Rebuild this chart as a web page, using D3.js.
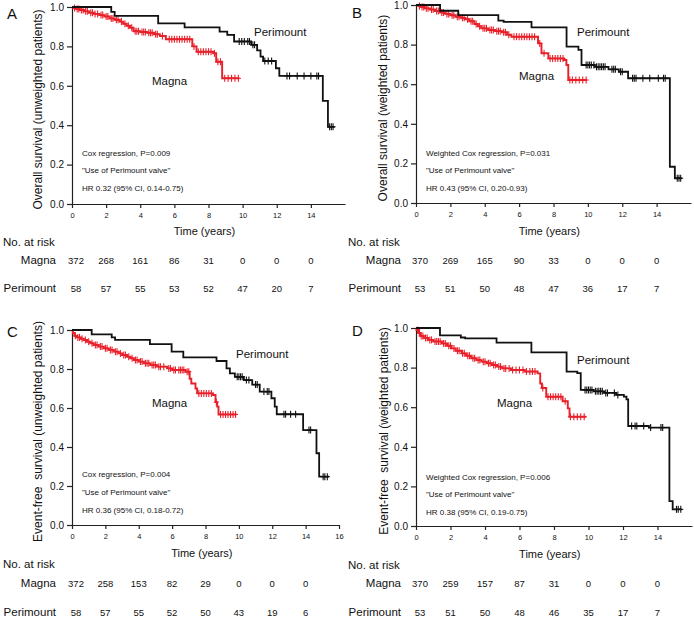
<!DOCTYPE html>
<html><head><meta charset="utf-8">
<script src="https://cdn.jsdelivr.net/npm/d3@7"></script>
<style>
body{margin:0;background:#fff}
svg{display:block}
text{font-family:"Liberation Sans",Arial,Helvetica,sans-serif;fill:#111}
</style>
</head><body>
<svg id="chart" width="694" height="617"></svg>
<script>
// ---------- data ----------
const yearTicks = [0,2,4,6,8,10,12,14];
const yearTicksC = [0,2,4,6,8,10,12,14,16];
const survTicks = [0,0.2,0.4,0.6,0.8,1.0];
const riskTimes = [0,2,4,6,8,10,12,14];
const groupNames = ["Magna","Perimount"];

// Panel A: overall survival, unweighted
const magnaA = [[0,1],[0.1,0.995],[0.25,0.99],[0.45,0.985],[0.7,0.978],[1.0,0.971],[1.3,0.965],[1.6,0.959],[1.9,0.952],[2.2,0.942],[2.5,0.935],[2.8,0.926],[3.0,0.915],[3.2,0.905],[3.4,0.895],[3.6,0.877],[4.0,0.873],[4.4,0.869],[4.8,0.862],[5.15,0.853],[5.5,0.836],[7.05,0.80],[7.3,0.773],[8.3,0.765],[8.45,0.722],[8.8,0.638],[9.8,0.638]];
const magnaACens = [0.15,0.3,0.4,0.55,0.65,0.8,0.9,1.1,1.2,1.35,1.5,1.7,1.8,2.0,2.1,2.3,2.4,2.6,2.7,2.9,3.1,3.3,3.5,3.7,3.8,3.9,4.1,4.2,4.3,4.5,4.6,4.7,4.9,5.0,5.3,5.7,5.85,6.0,6.15,6.3,6.45,6.6,6.75,6.9,7.15,7.4,7.55,7.7,7.85,8.0,8.15,8.35,8.55,8.7,8.95,9.15,9.35,9.55,9.75];
const periA = [[0,1],[2.3,0.975],[2.5,0.955],[5.05,0.917],[6.6,0.897],[8.65,0.875],[9.1,0.858],[9.5,0.825],[10.5,0.808],[10.85,0.78],[11.05,0.748],[11.2,0.726],[11.95,0.689],[12.15,0.65],[14.7,0.523],[15.0,0.392],[15.4,0.392]];
const periACens = [9.8,9.95,10.1,10.3,10.4,10.6,10.7,11.3,11.5,11.7,12.6,12.75,13.2,13.6,14.0,14.35,14.45,15.1,15.2,15.3];
const riskMagnaA = [372,268,161,86,31,0,0,0];
const riskPeriA = [58,57,55,53,52,47,20,7];

// Panel B: overall survival, weighted
const magnaB = [[0,1],[0.15,0.995],[0.3,0.99],[0.5,0.983],[0.8,0.977],[1.1,0.97],[1.4,0.962],[1.7,0.955],[2.0,0.948],[2.3,0.941],[2.6,0.935],[2.85,0.928],[3.1,0.918],[3.4,0.904],[3.6,0.893],[3.8,0.882],[4.2,0.874],[4.6,0.868],[5.0,0.862],[5.3,0.85],[5.55,0.84],[7.1,0.806],[7.3,0.756],[7.7,0.73],[8.6,0.722],[8.75,0.697],[8.86,0.621],[9.92,0.621]];
const magnaBCens = [0.2,0.35,0.45,0.6,0.7,0.9,1.0,1.2,1.3,1.5,1.6,1.8,1.9,2.1,2.2,2.4,2.5,2.7,2.8,3.0,3.2,3.3,3.5,3.7,3.9,4.0,4.1,4.3,4.4,4.5,4.7,4.8,4.9,5.1,5.2,5.4,5.7,5.85,6.0,6.15,6.3,6.45,6.6,6.75,6.9,7.2,7.45,7.8,7.95,8.1,8.25,8.4,8.55,8.95,9.1,9.3,9.5,9.7,9.9];
const periB = [[0,1],[1.4,0.971],[2.46,0.949],[4.79,0.921],[5.1,0.915],[6.72,0.887],[8.76,0.79],[9.45,0.773],[9.63,0.697],[10.4,0.688],[11.2,0.675],[11.8,0.663],[12.34,0.63],[14.77,0.183],[15.06,0.125],[15.45,0.125]];
const periBCens = [9.9,10.0,10.1,10.2,10.35,10.5,10.6,10.7,10.8,10.9,11.0,11.4,11.5,11.6,11.9,12.0,12.6,12.7,12.8,13.2,13.6,14.1,14.4,14.5,15.2,15.3,15.4];
const riskMagnaB = [370,269,165,90,33,0,0,0];
const riskPeriB = [53,51,50,48,47,36,17,7];

// Panel C: event-free survival, unweighted
const magnaC = [[0,1],[0.05,0.985],[0.15,0.97],[0.3,0.962],[0.5,0.955],[0.7,0.949],[0.9,0.94],[1.1,0.932],[1.3,0.923],[1.6,0.915],[1.9,0.906],[2.2,0.898],[2.5,0.889],[2.8,0.88],[3.0,0.872],[3.3,0.863],[3.5,0.855],[3.7,0.846],[4.0,0.838],[4.3,0.829],[4.7,0.82],[5.1,0.812],[5.7,0.803],[6.0,0.795],[6.8,0.786],[7.05,0.75],[7.15,0.726],[7.4,0.7],[7.5,0.675],[8.45,0.667],[8.6,0.63],[8.7,0.607],[8.78,0.567],[9.86,0.567]];
const magnaCCens = [0.2,0.35,0.45,0.6,0.8,1.0,1.2,1.4,1.5,1.7,1.8,2.0,2.1,2.3,2.4,2.6,2.7,2.9,3.1,3.2,3.4,3.6,3.8,3.9,4.1,4.2,4.4,4.5,4.6,4.8,4.9,5.0,5.2,5.3,5.5,5.8,5.9,6.1,6.2,6.4,6.5,6.6,6.7,6.9,7.0,7.6,7.75,7.9,8.05,8.2,8.35,8.65,8.9,9.05,9.2,9.35,9.5,9.65,9.8];
const periC = [[0,1],[1.18,0.978],[2.38,0.962],[2.58,0.949],[4.67,0.928],[5.97,0.889],[6.67,0.86],[8.66,0.841],[9.26,0.803],[9.46,0.778],[9.76,0.76],[10.3,0.743],[10.8,0.72],[11.25,0.684],[11.95,0.65],[12.15,0.607],[12.27,0.568],[13.85,0.487],[14.65,0.368],[14.81,0.248],[15.4,0.248]];
const periCCens = [9.9,10.0,10.1,10.2,10.45,10.6,11.0,11.1,11.5,11.7,11.8,12.7,12.8,13.1,13.4,14.2,14.3,15.05,15.15,15.3];
const riskMagnaC = [372,258,153,82,29,0,0,0];
const riskPeriC = [58,57,55,52,50,43,19,6];

// Panel D: event-free survival, weighted
const magnaD = [[0,1],[0.05,0.99],[0.15,0.975],[0.25,0.96],[0.45,0.95],[0.7,0.94],[1.0,0.932],[1.5,0.922],[1.8,0.91],[2.05,0.897],[2.3,0.885],[2.65,0.872],[2.9,0.86],[3.2,0.847],[3.5,0.838],[3.8,0.83],[4.1,0.822],[4.4,0.813],[4.7,0.805],[5.0,0.796],[5.5,0.788],[6.3,0.78],[7.05,0.771],[7.2,0.72],[7.3,0.697],[7.55,0.653],[8.5,0.63],[8.8,0.594],[8.9,0.552],[9.87,0.552]];
const magnaDCens = [0.1,0.2,0.3,0.4,0.55,0.65,0.8,0.9,1.1,1.2,1.3,1.4,1.6,1.7,1.9,2.0,2.2,2.4,2.5,2.7,2.8,3.0,3.1,3.3,3.4,3.6,3.7,3.9,4.0,4.2,4.3,4.5,4.6,4.8,4.9,5.1,5.2,5.4,5.6,5.8,6.0,6.2,6.4,6.6,6.75,6.9,7.35,7.65,7.8,7.95,8.1,8.25,8.4,8.65,8.95,9.15,9.35,9.55,9.75];
const periD = [[0,1],[1.39,0.963],[2.6,0.952],[2.85,0.948],[4.67,0.926],[6.69,0.877],[8.73,0.78],[9.35,0.772],[9.55,0.687],[10.3,0.68],[10.9,0.672],[11.6,0.662],[12.05,0.653],[12.2,0.64],[12.3,0.505],[13.5,0.497],[14.69,0.126],[14.88,0.084],[15.4,0.084]];
const periDCens = [9.8,9.9,10.0,10.1,10.2,10.4,10.5,10.6,10.7,10.8,11.0,11.1,11.5,11.7,12.5,12.7,12.8,13.2,13.6,14.2,14.3,15.1,15.2,15.35];
const riskMagnaD = [370,259,157,87,31,0,0,0];
const riskPeriD = [53,51,50,48,46,35,17,7];

const titleOS_U = "Overall survival (unweighted patients)";
const titleOS_W = "Overall survival (weighted patients)";
const titleEF_U = "Event-free  survival (unweighted patients)";
const titleEF_W = "Event-free  survival (weighted patients)";
const notesA = ["Cox regression, P=0.009","\"Use of Perimount valve\"","HR 0.32 (95% CI, 0.14-0.75)"];
const notesB = ["Weighted Cox regression, P=0.031","\"Use of Perimount valve\"","HR 0.43 (95% CI, 0.20-0.93)"];
const notesC = ["Cox regression, P=0.004","\"Use of Perimount valve\"","HR 0.36 (95% CI, 0.18-0.72)"];
const notesD = ["Weighted Cox regression, P=0.006","\"Use of Perimount valve\"","HR 0.38 (95% CI, 0.19-0.75)"];

// ---------- layout ----------
const panels = [
  {letter:"A", ox:0, x0:72, x1:345, yTop:7, yBot:204, ticks:yearTicks, title:titleOS_U, notes:notesA, noteY:[156,173,191],
   magna:magnaA, magnaCens:magnaACens, peri:periA, periCens:periACens, risk:[riskMagnaA,riskPeriA],
   periLab:[254,36], magLab:[152,85], timeY:235, riskY:[246,264,292], letterY:19, titleX:38},
  {letter:"B", ox:345, x0:416, x1:691, yTop:5, yBot:203, ticks:yearTicks, title:titleOS_W, notes:notesB, noteY:[156,173,191],
   magna:magnaB, magnaCens:magnaBCens, peri:periB, periCens:periBCens, risk:[riskMagnaB,riskPeriB],
   periLab:[577,36], magLab:[519,80], timeY:235, riskY:[246,264,292], letterY:18, titleX:383},
  {letter:"C", ox:0, x0:72, x1:339, yTop:330, yBot:525, ticks:yearTicksC, title:titleEF_U, notes:notesC, noteY:[477,495,513],
   magna:magnaC, magnaCens:magnaCCens, peri:periC, periCens:periCCens, risk:[riskMagnaC,riskPeriC],
   periLab:[236,358], magLab:[152,407], timeY:557, riskY:[568,587,616], letterY:337, titleX:38},
  {letter:"D", ox:345, x0:416, x1:692, yTop:328, yBot:526, ticks:yearTicks, title:titleEF_W, notes:notesD, noteY:[480,497,515],
   magna:magnaD, magnaCens:magnaDCens, peri:periD, periCens:periDCens, risk:[riskMagnaD,riskPeriD],
   periLab:[577,364], magLab:[497,407], timeY:558, riskY:[569,587,616], letterY:336, titleX:384}
];

const RED = "#e8202a", BLACK = "#111";
const svg = d3.select("#chart");

function stepValue(steps, t){
  let v = steps[0][1];
  for (const s of steps){ if (s[0] <= t) v = s[1]; else break; }
  return v;
}

panels.forEach(p => {
  const g = svg.append("g");
  const x = d3.scaleLinear().domain([0,16]).range([p.x0, p.x1]);
  const y = d3.scaleLinear().domain([0,1]).range([p.yBot, p.yTop]);

  // axes
  const ya = g.append("g").attr("transform",`translate(${p.x0},0)`)
    .call(d3.axisLeft(y).tickValues(survTicks).tickFormat(d3.format(".1f")).tickSize(5).tickSizeOuter(0).tickPadding(3));
  ya.selectAll("text").style("font-size","10px").style("font-family",'"Liberation Sans",Arial,sans-serif');
  const xa = g.append("g").attr("transform",`translate(0,${p.yBot})`)
    .call(d3.axisBottom(x).tickValues(p.ticks).tickFormat(d3.format("d")).tickSize(4).tickSizeOuter(0).tickPadding(5));
  xa.selectAll("text").style("font-size","7.5px").style("font-family",'"Liberation Sans",Arial,sans-serif');
  g.selectAll(".domain, .tick line").attr("stroke","#222").attr("stroke-width",1.2);

  // curves
  const line = d3.line().x(d=>x(d[0])).y(d=>y(d[1])).curve(d3.curveStepAfter);
  [[p.magna,p.magnaCens,RED,1.9],[p.peri,p.periCens,BLACK,1.8]].forEach(([steps,cens,col,w])=>{
    g.append("path").datum(steps).attr("d",line).attr("fill","none")
      .attr("stroke",col).attr("stroke-width",w);
    const cg = g.append("g").attr("stroke",col).attr("stroke-width",1.1);
    cens.forEach(t=>{
      const cx = x(t), cy = y(stepValue(steps,t));
      cg.append("line").attr("x1",cx).attr("x2",cx).attr("y1",cy-3.5).attr("y2",cy+3.5);
      cg.append("line").attr("x1",cx-2.5).attr("x2",cx+2.5).attr("y1",cy).attr("y2",cy);
    });
  });

  // curve labels
  g.append("text").attr("x",p.periLab[0]).attr("y",p.periLab[1]).style("font-size","11.5px").text(groupNames[1]);
  g.append("text").attr("x",p.magLab[0]).attr("y",p.magLab[1]).style("font-size","11.5px").text(groupNames[0]);

  // notes
  p.notes.forEach((n,i)=>{
    g.append("text").attr("x",p.x0+10).attr("y",p.noteY[i]).style("font-size","8px").text(n);
  });

  // panel letter
  g.append("text").attr("x",p.ox+7).attr("y",p.letterY).style("font-size","15px").text(p.letter);

  // y title
  g.append("text").attr("transform",`translate(${p.titleX+4},${(p.yTop+p.yBot)/2+4}) rotate(-90)`)
    .attr("text-anchor","middle").attr("xml:space","preserve").style("white-space","pre")
    .style("font-size","12px").text(p.title);

  // x title
  g.append("text").attr("x",(x(0)+x(14))/2+13).attr("y",p.timeY).attr("text-anchor","middle")
    .style("font-size","11px").text("Time (years)");

  // risk table
  g.append("text").attr("x",p.ox+3).attr("y",p.riskY[0]).style("font-size","11.5px").text("No. at risk");
  groupNames.forEach((name,gi)=>{
    const ry = p.riskY[gi+1];
    g.append("text").attr("x",p.ox+56).attr("y",ry).attr("text-anchor","end").style("font-size","11.5px").text(name);
    p.risk[gi].forEach((v,i)=>{
      g.append("text").attr("x",x(riskTimes[i])+(i===0?4:0)).attr("y",ry).attr("text-anchor","middle")
        .style("font-size","9.5px").text(v);
    });
  });
});
</script>
</body></html>
